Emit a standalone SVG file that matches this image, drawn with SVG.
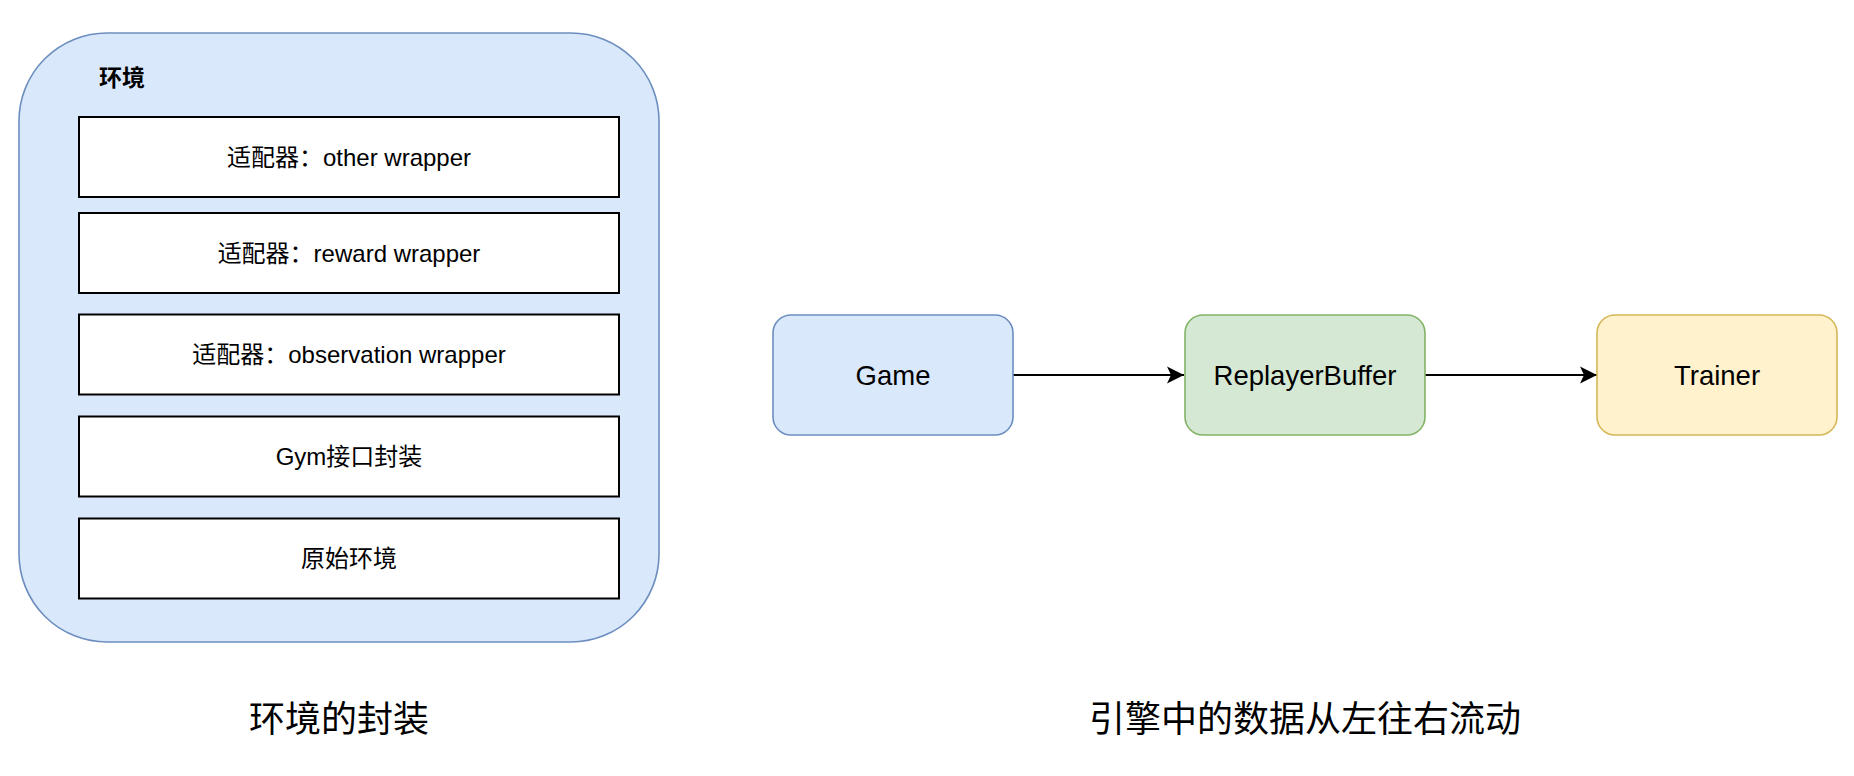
<svg xmlns="http://www.w3.org/2000/svg" width="1854" height="776" viewBox="0 0 1854 776">
<defs>
<style>
text{font-family:"Liberation Sans","Noto Sans CJK SC",sans-serif;fill:#000;}
.layer{fill:#fff;stroke:#000;stroke-width:2;}
.lt{font-size:24px;text-anchor:middle;}
.nt{font-size:27.5px;text-anchor:middle;}
.title{font-size:36px;text-anchor:middle;}
.edge{stroke:#000;stroke-width:2.2;fill:none;}
</style>
<marker id="arr" markerWidth="20" markerHeight="20" refX="17" refY="9" orient="auto" markerUnits="userSpaceOnUse">
<path d="M0,0.5 L17,9 L0,17.5 L4,9 Z" fill="#000"/>
</marker>
</defs>
<rect width="1854" height="776" fill="#fff"/>
<g id="env">
<rect x="19" y="33" width="640" height="609" rx="88" ry="88" fill="#dae8fc" stroke="#6c8ebf" stroke-width="1.6"/>
<text x="99" y="86" style="font-size:23px;font-weight:bold">环境</text>
</g>
<g id="layer-other">
<rect class="layer" x="79" y="117" width="540" height="80"/>
<text class="lt" x="349" y="165.5">适配器：other wrapper</text>
</g>
<g id="layer-reward">
<rect class="layer" x="79" y="213" width="540" height="80"/>
<text class="lt" x="349" y="261.5">适配器：reward wrapper</text>
</g>
<g id="layer-observation">
<rect class="layer" x="79" y="314.5" width="540" height="80"/>
<text class="lt" x="349" y="363">适配器：observation wrapper</text>
</g>
<g id="layer-gym">
<rect class="layer" x="79" y="416.5" width="540" height="80"/>
<text class="lt" x="349" y="465">Gym接口封装</text>
</g>
<g id="layer-raw">
<rect class="layer" x="79" y="518.5" width="540" height="80"/>
<text class="lt" x="349" y="567">原始环境</text>
</g>
<g id="title-env">
<text class="title" x="339" y="732">环境的封装</text>
</g>
<g id="connectors">
<line class="edge" x1="1013" y1="375" x2="1184" y2="375" marker-end="url(#arr)"/>
<line class="edge" x1="1425" y1="375" x2="1597" y2="375" marker-end="url(#arr)"/>
</g>
<g id="game">
<rect x="773" y="315" width="240" height="120" rx="18" ry="18" fill="#dae8fc" stroke="#6c8ebf" stroke-width="1.6"/>
<text class="nt" x="893" y="385">Game</text>
</g>
<g id="buffer">
<rect x="1185" y="315" width="240" height="120" rx="18" ry="18" fill="#d5e8d4" stroke="#82b366" stroke-width="1.6"/>
<text class="nt" x="1305" y="385">ReplayerBuffer</text>
</g>
<g id="trainer">
<rect x="1597" y="315" width="240" height="120" rx="18" ry="18" fill="#fff2cc" stroke="#d6b656" stroke-width="1.6"/>
<text class="nt" x="1717" y="385">Trainer</text>
</g>
<g id="title-flow">
<text class="title" x="1305" y="732">引擎中的数据从左往右流动</text>
</g>
</svg>
